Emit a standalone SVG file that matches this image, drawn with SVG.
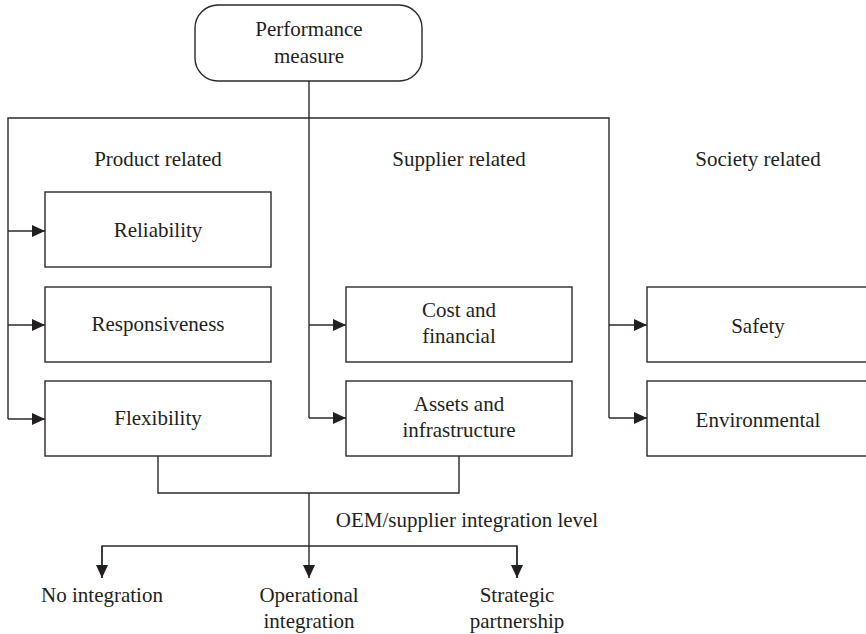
<svg xmlns="http://www.w3.org/2000/svg" width="866" height="634" viewBox="0 0 866 634">
<style>
.box{fill:#fff;stroke:#2a2a2a;stroke-width:1.4}
.ln{fill:none;stroke:#2a2a2a;stroke-width:1.4}
text{font-family:"Liberation Serif","DejaVu Serif","Times New Roman",serif;font-size:21px;fill:#231f20;text-anchor:middle}
</style>
<defs>
<marker id="ah" markerWidth="13" markerHeight="12" refX="13" refY="6" orient="auto" markerUnits="userSpaceOnUse">
<path d="M0,0 L13,6 L0,12 Z" fill="#231f20"/>
</marker>
</defs>
<g id="connectors">
<path class="ln" d="M309,81 V418"/>
<path class="ln" d="M8,419 V118 H609 V418"/>
<path class="ln" d="M8,231 H45" marker-end="url(#ah)"/>
<path class="ln" d="M8,325 H45" marker-end="url(#ah)"/>
<path class="ln" d="M8,419 H45" marker-end="url(#ah)"/>
<path class="ln" d="M309,325 H346" marker-end="url(#ah)"/>
<path class="ln" d="M309,418 H346" marker-end="url(#ah)"/>
<path class="ln" d="M609,325 H647" marker-end="url(#ah)"/>
<path class="ln" d="M609,418 H647" marker-end="url(#ah)"/>
<path class="ln" d="M158,456 V493 H459 V456"/>
<path class="ln" d="M309,493 V546"/>
<path class="ln" d="M102,578 V546 H517 V578"/>
<path class="ln" d="M102,546 V578" marker-end="url(#ah)"/>
<path class="ln" d="M309,546 V578" marker-end="url(#ah)"/>
<path class="ln" d="M517,546 V578" marker-end="url(#ah)"/>
</g>
<g id="performance-measure">
<rect class="box" x="195" y="5" width="227" height="76" rx="23" ry="23"/>
<text x="309" y="36">Performance</text>
<text x="309" y="63">measure</text>
</g>
<g id="labels">
<text x="158" y="166">Product related</text>
<text x="459" y="166">Supplier related</text>
<text x="758" y="166">Society related</text>
<text x="467" y="527">OEM/supplier integration level</text>
</g>
<g id="reliability"><rect class="box" x="45" y="192" width="226" height="75"/><text x="158" y="237">Reliability</text></g>
<g id="responsiveness"><rect class="box" x="45" y="287" width="226" height="75"/><text x="158" y="331">Responsiveness</text></g>
<g id="flexibility"><rect class="box" x="45" y="381" width="226" height="75"/><text x="158" y="425">Flexibility</text></g>
<g id="cost"><rect class="box" x="346" y="287" width="226" height="75"/><text x="459" y="317">Cost and</text><text x="459" y="343">financial</text></g>
<g id="assets"><rect class="box" x="346" y="381" width="226" height="75"/><text x="459" y="411">Assets and</text><text x="459" y="437">infrastructure</text></g>
<g id="safety"><rect class="box" x="647" y="287" width="226" height="75"/><text x="758" y="333">Safety</text></g>
<g id="environmental"><rect class="box" x="647" y="381" width="226" height="75"/><text x="758" y="427">Environmental</text></g>
<g id="no-integration"><text x="102" y="602">No integration</text></g>
<g id="operational"><text x="309" y="602">Operational</text><text x="309" y="628">integration</text></g>
<g id="strategic"><text x="517" y="602">Strategic</text><text x="517" y="628">partnership</text></g>
</svg>
